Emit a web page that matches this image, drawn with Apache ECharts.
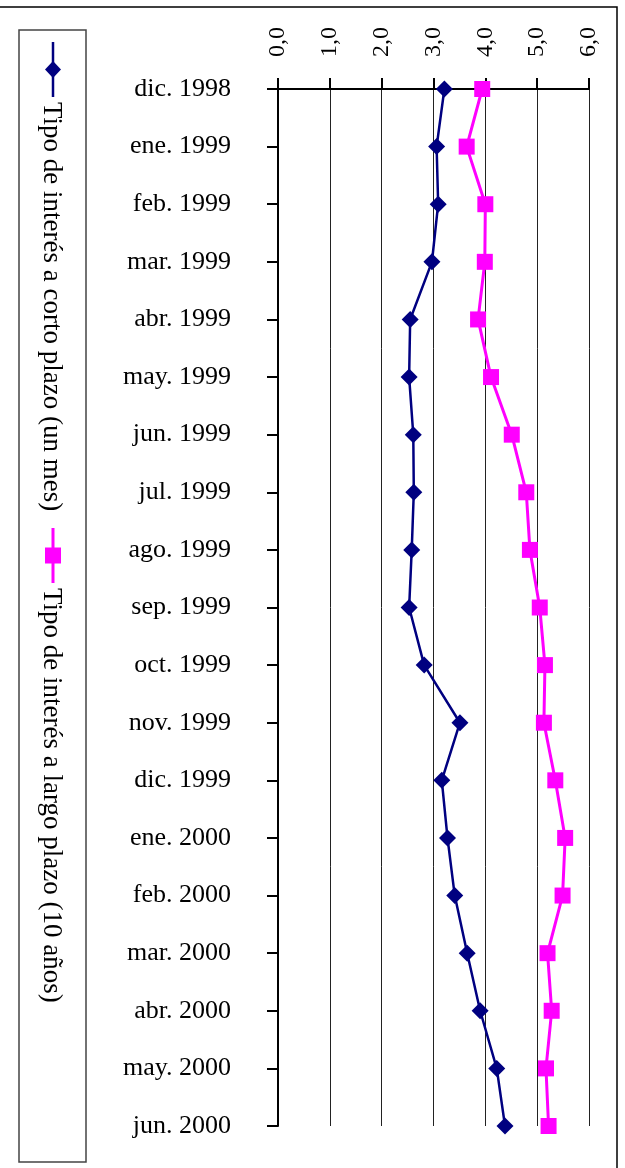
<!DOCTYPE html>
<html>
<head>
<meta charset="utf-8">
<script src="https://cdn.jsdelivr.net/npm/echarts@6/dist/echarts.min.js"></script>
<style>
html,body{margin:0;padding:0;background:#fff;}
#c{width:625px;height:1168px;}
</style>
</head>
<body>
<div id="c"></div>
<script>
const months = ['dic. 1998','ene. 1999','feb. 1999','mar. 1999','abr. 1999','may. 1999','jun. 1999','jul. 1999','ago. 1999','sep. 1999','oct. 1999','nov. 1999','dic. 1999','ene. 2000','feb. 2000','mar. 2000','abr. 2000','may. 2000','jun. 2000'];
const seriesNames = ['Tipo de interés a corto plazo (un mes)','Tipo de interés a largo plazo (10 años)'];
const shortRate = [3.21,3.06,3.09,2.97,2.55,2.53,2.61,2.62,2.58,2.53,2.82,3.51,3.16,3.27,3.41,3.65,3.90,4.22,4.38];
const longRate  = [3.94,3.64,4.00,3.99,3.86,4.11,4.51,4.79,4.86,5.05,5.15,5.13,5.35,5.54,5.49,5.20,5.28,5.17,5.22];
const valueTicks = [0,1,2,3,4,5,6];

const FONT = '"Liberation Serif","Times New Roman",serif';
const NAVY = '#000080';
const MAG = '#FF00FF';

const chart = echarts.init(document.getElementById('c'), null, {renderer:'canvas'});

function legendItem(idx, yTop, color, symbol) {
  const els = [];
  els.push({type:'line', shape:{x1:53, y1:yTop, x2:53, y2:yTop+55}, style:{stroke:color, lineWidth: idx===0?2.5:3}, silent:true});
  if (symbol === 'diamond') {
    els.push({type:'polygon', shape:{points:[[53,yTop+19],[61,yTop+27.5],[53,yTop+36],[45,yTop+27.5]]}, style:{fill:color}, silent:true});
  } else {
    els.push({type:'rect', shape:{x:45, y:yTop+19.5, width:16, height:16}, style:{fill:color}, silent:true});
  }
  els.push({type:'text', x:51, y:yTop+60, rotation:-Math.PI/2,
    style:{text:seriesNames[idx], font:'27px '+FONT, fill:'#000', align:'left', verticalAlign:'middle', textAlign:'left', textVerticalAlign:'middle'}, silent:true});
  return els;
}

const option = {
  animation:false,
  backgroundColor:'#fff',
  grid:{left:278, right:36, top:89, bottom:42, containLabel:false},
  xAxis:{
    type:'value', position:'top', min:0, max:6, interval:1,
    axisLine:{show:true, lineStyle:{color:'#000', width:2}},
    axisTick:{show:true, length:11, lineStyle:{color:'#000', width:2}},
    splitLine:{show:true, lineStyle:{color:'#222', width:1}},
    axisLabel:{rotate:-90, margin:32, color:'#000', fontFamily:FONT, fontSize:24,
      formatter:function(v){ return valueTicks.indexOf(v)>=0 ? v.toFixed(1).replace('.',',') : ''; }}
  },
  yAxis:{
    type:'category', data:months, inverse:true, boundaryGap:false,
    axisLine:{show:true, onZero:false, lineStyle:{color:'#000', width:2}},
    axisTick:{show:true, length:11, lineStyle:{color:'#000', width:2}},
    splitLine:{show:false},
    axisLabel:{margin:47, color:'#000', fontFamily:FONT, fontSize:26}
  },
  series:[
    {name:seriesNames[0], type:'line', data:shortRate.map((v,i)=>[v, months[i]]),
     symbol:'diamond', symbolSize:17, itemStyle:{color:NAVY}, lineStyle:{color:NAVY, width:2.5}, z:3},
    {name:seriesNames[1], type:'line', data:longRate.map((v,i)=>[v, months[i]]),
     symbol:'rect', symbolSize:16, itemStyle:{color:MAG}, lineStyle:{color:MAG, width:3}, z:2}
  ],
  graphic:[
    {type:'rect', shape:{x:-5, y:7, width:622, height:1200}, style:{fill:null, stroke:'#000', lineWidth:1.5}, silent:true, z:-1},
    {type:'rect', shape:{x:19, y:30, width:67, height:1132}, style:{fill:null, stroke:'#444', lineWidth:1.5}, silent:true},
    ...legendItem(0, 42, NAVY, 'diamond'),
    ...legendItem(1, 528, MAG, 'rect')
  ]
};
chart.setOption(option);
</script>
</body>
</html>
